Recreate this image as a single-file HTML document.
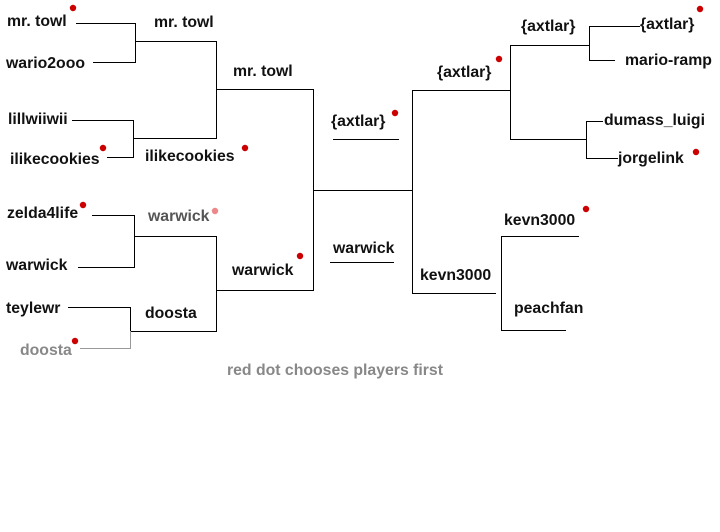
<!DOCTYPE html>
<html><head><meta charset="utf-8"><style>
html,body{margin:0;padding:0;background:#fff;}
svg{display:block;}
text{font-family:"Liberation Sans",Arial,sans-serif;font-size:15.8px;font-weight:bold;fill:#111;}
.g{fill:#888;}
.lg{fill:#555;}
</style></head><body>
<svg width="720" height="532" viewBox="0 0 720 532" xmlns="http://www.w3.org/2000/svg">
<g stroke="#000" stroke-width="1" fill="none" shape-rendering="crispEdges">
<path d="M76 23.5H135.5V62.5H93"/>
<path d="M135 41.5H216.5V138.5H133"/>
<path d="M72 120.5H133.5V157.5H107"/>
<path d="M216 89.5H313.5V290.5H216"/>
<path d="M92 215.5H134.5V267.5H78"/>
<path d="M134 236.5H216.5V331.5H130"/>
<path d="M68 307.5H130.5V331"/>
<path d="M80 348.5H130.5V331" stroke="#999"/>
<path d="M313 190.5H412.5"/>
<path d="M333 139.5H399"/>
<path d="M330 262.5H394"/>
<path d="M412.5 90V293.5H496"/>
<path d="M412 90.5H510.5V139.5H586"/>
<path d="M510.5 90V45.5H589"/>
<path d="M589.5 26V60.5H615"/>
<path d="M589 26.5H640"/>
<path d="M586.5 121V158.5H618"/>
<path d="M586 121.5H603"/>
<path d="M579 236.5H501.5V330.5H566"/>
</g>
<g fill="#c00">
<circle cx="73" cy="8" r="3.2"/>
<circle cx="103" cy="148" r="3.2"/>
<circle cx="245" cy="148" r="3.2"/>
<circle cx="83" cy="205" r="3.2"/>
<circle cx="215" cy="211" r="3.2" fill="#e88"/>
<circle cx="300" cy="256" r="3.2"/>
<circle cx="75" cy="341" r="3.2"/>
<circle cx="395" cy="113" r="3.2"/>
<circle cx="499" cy="59" r="3.2"/>
<circle cx="700" cy="9" r="3.2"/>
<circle cx="696" cy="152" r="3.2"/>
<circle cx="586" cy="209" r="3.2"/>
</g>
<text x="7" y="26">mr. towl</text>
<text x="6" y="68">wario2ooo</text>
<text x="154" y="27">mr. towl</text>
<text x="233" y="76">mr. towl</text>
<text x="8" y="124">lillwiiwii</text>
<text x="10" y="164">ilikecookies</text>
<text x="145" y="161">ilikecookies</text>
<text x="7" y="218">zelda4life</text>
<text x="148" y="221" class="lg">warwick</text>
<text x="6" y="270">warwick</text>
<text x="232" y="275">warwick</text>
<text x="6" y="313">teylewr</text>
<text x="145" y="318">doosta</text>
<text x="20" y="355" class="g">doosta</text>
<text x="227" y="375" class="g">red dot chooses players first</text>
<text x="331" y="126">{axtlar}</text>
<text x="333" y="253">warwick</text>
<text x="437" y="77">{axtlar}</text>
<text x="521" y="31">{axtlar}</text>
<text x="640" y="29">{axtlar}</text>
<text x="625" y="65">mario-ramp</text>
<text x="604" y="125">dumass_luigi</text>
<text x="618" y="163">jorgelink</text>
<text x="504" y="225">kevn3000</text>
<text x="420" y="280">kevn3000</text>
<text x="514" y="313">peachfan</text>
</svg>
</body></html>
